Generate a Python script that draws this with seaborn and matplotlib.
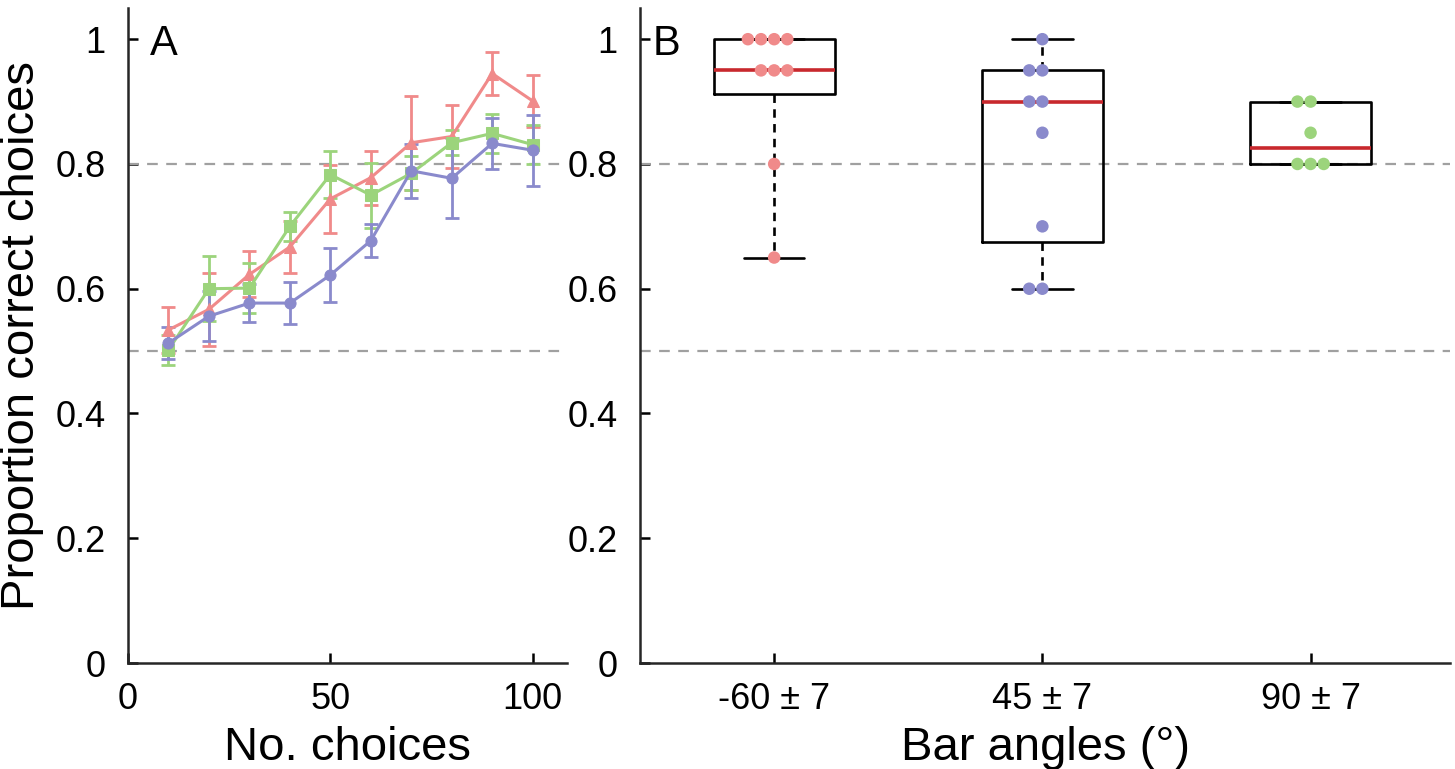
import numpy as np
import pandas as pd
import seaborn as sns
import matplotlib.pyplot as plt

# Painel A: proporção de escolhas corretas ao longo das escolhas
n_choices = [10, 20, 30, 40, 50, 60, 70, 80, 90, 100]

red_mean = [0.534, 0.567, 0.623, 0.667, 0.744, 0.778, 0.834, 0.844, 0.945, 0.901]
red_err = [0.037, 0.059, 0.037, 0.042, 0.055, 0.043, 0.075, 0.050, 0.035, 0.041]

green_mean = [0.502, 0.600, 0.601, 0.700, 0.783, 0.750, 0.785, 0.834, 0.849, 0.831]
green_err = [0.024, 0.052, 0.040, 0.023, 0.037, 0.052, 0.027, 0.020, 0.031, 0.031]

blue_mean = [0.513, 0.556, 0.577, 0.577, 0.622, 0.677, 0.789, 0.777, 0.833, 0.822]
blue_err = [0.025, 0.040, 0.030, 0.034, 0.044, 0.026, 0.043, 0.064, 0.041, 0.057]

# Painel B: desempenho por ângulo da barra
angle_labels = ["-60 \u00b1 7", "45 \u00b1 7", "90 \u00b1 7"]
prop_m60 = [1.0, 1.0, 1.0, 1.0, 0.95, 0.95, 0.95, 0.8, 0.65]
prop_45 = [1.0, 0.95, 0.95, 0.9, 0.9, 0.85, 0.7, 0.6, 0.6]
prop_90 = [0.9, 0.9, 0.85, 0.8, 0.8, 0.8]

RED = "#f08a8a"
GREEN = "#9cd47c"
BLUE = "#8a8acc"
MEDIAN = "#c8282d"
GRAY = "#a0a0a0"

sns.set_theme(style="ticks")
plt.rcParams["font.family"] = ["Liberation Sans", "DejaVu Sans"]
plt.rcParams["axes.linewidth"] = 1.8
plt.rcParams["text.color"] = "black"
plt.rcParams["axes.labelcolor"] = "black"

fig = plt.figure(figsize=(14.55, 7.69), dpi=100)
axA = fig.add_axes([0.088, 0.1378, 0.3017, 0.8518])
axB = fig.add_axes([0.4399, 0.1378, 0.5567, 0.8518])

yticks = [0, 0.2, 0.4, 0.6, 0.8, 1.0]
ylabels = ["0", "0.2", "0.4", "0.6", "0.8", "1"]

for ax in (axA, axB):
    ax.axhline(0.8, color=GRAY, lw=1.6, ls=(0, (4.8, 3.8)), zorder=1)
    ax.axhline(0.5, color=GRAY, lw=1.6, ls=(0, (4.8, 3.8)), zorder=1)
    ax.set_ylim(0, 1.05)
    ax.set_yticks(yticks)
    ax.set_yticklabels(ylabels)
    ax.tick_params(direction="in", length=7, width=1.8, labelsize=26,
                   colors="black")
    ax.tick_params(axis="y", pad=16)
    ax.tick_params(axis="x", pad=14)
    sns.despine(ax=ax)

# --- A ---
series = [
    (red_mean, red_err, RED, "^"),
    (green_mean, green_err, GREEN, "s"),
    (blue_mean, blue_err, BLUE, "o"),
]
for mean, err, col, mk in series:
    ax = axA
    ax.errorbar(n_choices, mean, yerr=err, fmt="none", ecolor=col,
                elinewidth=2.0, capsize=5, capthick=2.0, zorder=2)
    sns.lineplot(x=n_choices, y=mean, color=col, marker=mk, markersize=8,
                 markeredgecolor=col, linewidth=2.2, ax=ax, zorder=3)

axA.set_xlim(0, 108.5)
axA.set_xticks([0, 50, 100])
axA.set_xlabel("No. choices", fontsize=34, labelpad=6)
axA.set_ylabel("Proportion correct choices", fontsize=34, labelpad=8)
axA.text(0.05, 0.945, "A", transform=axA.transAxes, fontsize=30,
         ha="left", va="center")

# --- B ---
groups = [prop_m60, prop_45, prop_90]
stats = []
for vals, lab in zip(groups, angle_labels):
    v = np.array(vals)
    q1, med, q3 = np.percentile(v, [25, 50, 75], method="hazen")
    stats.append(dict(med=med, q1=q1, q3=q3, whislo=v.min(), whishi=v.max(),
                      fliers=[], label=lab))

axB.bxp(stats, positions=[0, 1, 2], widths=0.45, showfliers=False,
        boxprops=dict(color="black", linewidth=1.9),
        whiskerprops=dict(color="black", linewidth=1.9, linestyle=(0, (3.2, 2.4))),
        capprops=dict(color="black", linewidth=1.9),
        medianprops=dict(color=MEDIAN, linewidth=2.6))

df = pd.DataFrame({
    "angle": [angle_labels[0]] * len(prop_m60) + [angle_labels[1]] * len(prop_45)
             + [angle_labels[2]] * len(prop_90),
    "prop": prop_m60 + prop_45 + prop_90,
})
sns.swarmplot(data=df, x="angle", y="prop", hue="angle", order=angle_labels,
              palette=[RED, BLUE, GREEN], size=9, legend=False, ax=axB, zorder=4)

axB.set_xlim(-0.5, 2.52)
axB.set_ylim(0, 1.05)
axB.set_xticks([0, 1, 2])
axB.set_xticklabels(angle_labels)
axB.set_xlabel("Bar angles (\u00b0)", fontsize=34, labelpad=6)
axB.set_ylabel("")
axB.text(0.015, 0.945, "B", transform=axB.transAxes, fontsize=30,
         ha="left", va="center")

fig.savefig("out.png", dpi=100)
